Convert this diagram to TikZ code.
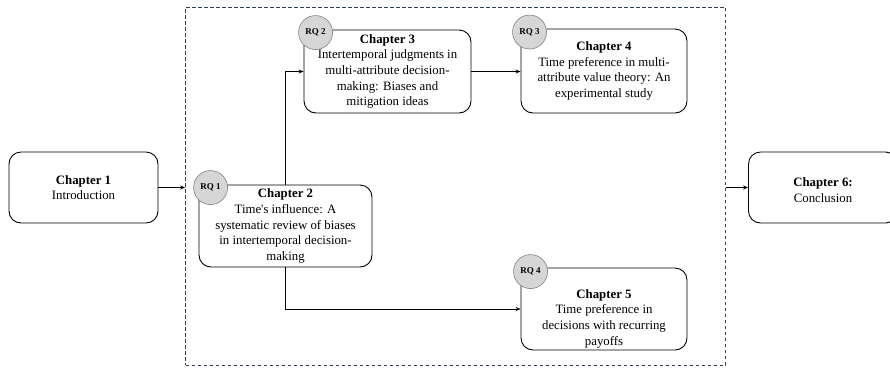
\documentclass[tikz,border=0pt]{standalone}
\usepackage{fontspec}
\setmainfont{Liberation Serif}
\usepackage{tikz}
\usetikzlibrary{positioning}
\usetikzlibrary{calc}
\usetikzlibrary{arrows.meta}
\usepackage{xcolor}
\definecolor{myframe}{RGB}{45,62,88}
\definecolor{rqfill}{RGB}{214,214,214}
\definecolor{rqdraw}{RGB}{130,130,130}

\tikzset{
    chapterbox/.style={draw, line width=0.9pt, rounded corners=12pt, align=center,
            font=\fontsize{12.8}{15.7}\selectfont, inner sep=0pt},
    rqcircle/.style={circle, draw=rqdraw, fill=rqfill, line width=0.6pt,
            minimum size=34pt, inner sep=0pt, font=\fontsize{9}{10}\selectfont\bfseries},
    flowarrow/.style={-{Stealth[length=5pt,width=4pt]}, line width=0.8pt},
    studyframe/.style={draw=myframe, dash pattern=on 3.5pt off 2.5pt, line width=0.8pt}
}

\begin{document}
\begin{tikzpicture}[x=1pt,y=1pt]

    \useasboundingbox (0,0) rectangle (890,-368);

    % the studies in the thesis
    \node[studyframe, minimum width=540pt, minimum height=358pt] (frame) at (455.5,-186) {};

    % ------------------

    %Intro and conclusion
    \node[chapterbox, minimum width=149pt, minimum height=71pt] (ch1) at (83.5,-187.5)
    {\textbf{Chapter 1}\\Introduction};

    \node[chapterbox, minimum width=149pt, minimum height=71pt] (ch6) at (823,-187.5)
    {\rule{0pt}{14pt}\textbf{Chapter 6:}\\Conclusion};

    % ------------------

    %Chapters with a research question
    \node[chapterbox, minimum width=173pt, minimum height=82pt] (ch2) at (285.5,-226)
    {\textbf{Chapter 2}\\Time\textquotesingle s influence: A\\systematic review of biases\\in intertemporal decision-\\making};

    \node[chapterbox, minimum width=167pt, minimum height=83pt] (ch3) at (387.5,-71.5)
    {\textbf{Chapter 3}\\Intertemporal judgments in\\multi-attribute decision-\\making: Biases and\\mitigation ideas};

    \node[chapterbox, minimum width=166pt, minimum height=84pt] (ch4) at (604,-71)
    {\textbf{Chapter 4}\\Time preference in multi-\\attribute value theory: An\\experimental study};

    \node[chapterbox, minimum width=166pt, minimum height=82pt] (ch5) at (604,-309)
    {\rule{0pt}{28pt}\textbf{Chapter 5}\\Time preference in\\decisions with recurring\\payoffs};

    % ------------------

    %RQ badges
    \node[rqcircle] (rq1) at ([shift={(12pt,-3pt)}]ch2.north west) {RQ 1};
    \node[rqcircle] (rq2) at ([shift={(12pt,-3pt)}]ch3.north west) {RQ 2};
    \node[rqcircle] (rq3) at ([shift={(9pt,-3.5pt)}]ch4.north west) {RQ 3};
    \node[rqcircle] (rq4) at ([shift={(10pt,-4pt)}]ch5.north west) {RQ 4};

    % ------------------

    % flow
    \draw[flowarrow] (ch1.east) -- (ch1.east -| frame.west);
    \draw[flowarrow] (ch6.west -| frame.east) -- (ch6.west);
    \draw[flowarrow] (ch2.north) |- (ch3.west);
    \draw[flowarrow] (ch2.south) |- (ch5.west);
    \draw[flowarrow] (ch3.east) -- (ch4.west |- ch3.east);
\end{tikzpicture}
\end{document}
